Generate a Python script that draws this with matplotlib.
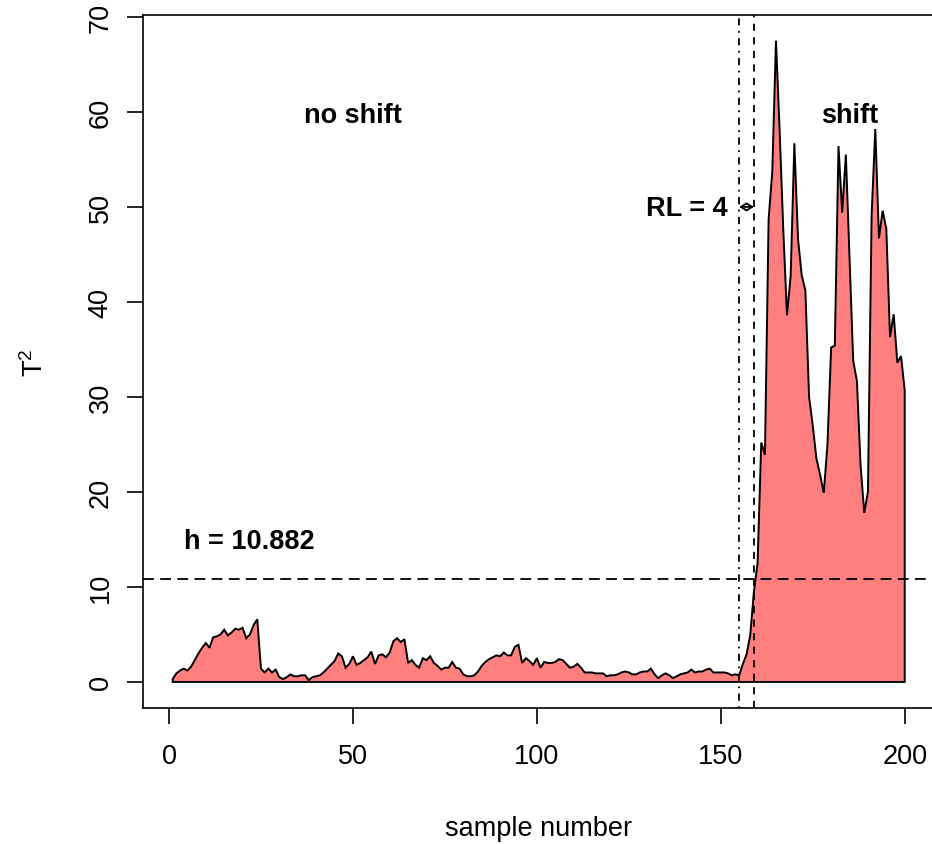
import numpy as np
import matplotlib
matplotlib.use("Agg")
import matplotlib.pyplot as plt

# T^2 statistic per sample
t2 = [
    0.3, 0.9, 1.2, 1.4, 1.2, 1.6, 2.3, 3.0, 3.6, 4.1,
    3.6, 4.7, 4.8, 5.0, 5.5, 4.9, 5.2, 5.6, 5.5, 5.7,
    4.6, 5.0, 6.0, 6.6, 1.4, 1.0, 1.4, 1.0, 1.3, 0.5,
    0.3, 0.5, 0.8, 0.6, 0.6, 0.7, 0.7, 0.2, 0.5, 0.6,
    0.7, 1.0, 1.4, 1.8, 2.2, 3.0, 2.7, 1.5, 1.9, 2.7,
    1.8, 2.0, 2.3, 2.6, 3.2, 1.9, 2.8, 2.9, 2.6, 3.1,
    4.3, 4.6, 4.2, 4.5, 2.0, 2.3, 1.8, 1.5, 2.5, 2.3,
    2.7, 2.0, 1.7, 1.3, 1.5, 1.5, 2.1, 1.5, 1.4, 0.8,
    0.6, 0.6, 0.7, 1.1, 1.7, 2.1, 2.4, 2.6, 2.8, 2.7,
    3.1, 2.8, 2.8, 3.7, 3.9, 2.0, 2.5, 2.2, 1.8, 2.5,
    1.5, 2.1, 2.0, 2.0, 2.1, 2.4, 2.3, 1.9, 1.5, 1.6,
    1.9, 1.5, 1.0, 1.0, 1.0, 0.9, 0.9, 0.9, 0.6, 0.7,
    0.7, 0.8, 1.0, 1.1, 1.0, 0.8, 0.8, 1.0, 1.1, 1.1,
    1.4, 0.8, 0.4, 0.7, 0.9, 0.7, 0.4, 0.6, 0.8, 0.9,
    1.0, 1.3, 1.0, 1.1, 1.1, 1.3, 1.4, 1.0, 1.0, 1.0,
    1.0, 0.9, 0.7, 0.8, 0.7, 1.9, 2.9, 4.9, 9.5, 12.5,
    25.2, 23.9, 48.7, 53.7, 67.5, 58.0, 47.5, 38.6, 42.8, 56.7,
    46.6, 42.8, 41.2, 30.0, 27.0, 23.5, 21.8, 19.9, 25.0, 35.2,
    35.4, 56.4, 49.4, 55.5, 44.6, 33.8, 31.7, 22.8, 17.8, 20.0,
    49.1, 58.2, 46.7, 49.6, 47.7, 36.3, 38.7, 33.6, 34.3, 30.7,
]
samples = list(range(1, len(t2) + 1))

h = 10.882
shift_start = 155
signal_at = 159
x_ticks = [0, 50, 100, 150, 200]
y_ticks = [0, 10, 20, 30, 40, 50, 60, 70]

plt.rcParams['font.family'] = ['Liberation Sans', 'DejaVu Sans']
plt.rcParams['mathtext.default'] = 'regular'
fs = 19.5

fig = plt.figure(figsize=(9.32, 8.45), dpi=100)
ax = fig.add_axes([143.4 / 932, 136.4 / 845, 790.6 / 932, 692.6 / 845])

xs = np.r_[samples[0], samples, samples[-1]]
ys = np.r_[0, t2, 0]
ax.fill(xs, ys, facecolor='#FF7F7F', edgecolor='black', linewidth=1.4, zorder=2)

ax.axhline(h, color='black', lw=1.3, linestyle=(0, (6, 3.5)), zorder=3)
ax.axvline(shift_start, color='black', lw=1.3, linestyle=(0, (1, 3, 4, 3)), zorder=3)
ax.axvline(signal_at, color='black', lw=1.3, linestyle=(0, (4, 3.5)), zorder=3)

ax.annotate('', xy=(shift_start, 50), xytext=(signal_at, 50),
            arrowprops=dict(arrowstyle='<->,head_length=0.4,head_width=0.25',
                            lw=1.3, color='black', shrinkA=0, shrinkB=0))

ax.text(50, 59.7, 'no shift', fontsize=fs, fontweight='bold', ha='center', va='center')
ax.text(185, 59.7, 'shift', fontsize=fs, fontweight='bold', ha='center', va='center')
ax.text(21.7, 14.8, 'h = 10.882', fontsize=fs, fontweight='bold', ha='center', va='center')
ax.text(151.8, 49.9, 'RL = 4', fontsize=fs, fontweight='bold', ha='right', va='center')

ax.set_xlim(-6.96, 207.96)
ax.set_ylim(-2.7, 70.2)
ax.set_xticks(x_ticks)
ax.set_yticks(y_ticks)
ax.tick_params(length=11.5, width=1.2, labelsize=fs, direction='out')
ax.tick_params(axis='x', pad=14)
ax.tick_params(axis='y', pad=10, labelrotation=90)
for lab in ax.get_yticklabels():
    lab.set_va('center')
for sp in ax.spines.values():
    sp.set_linewidth(1.2)

ax.set_xlabel('sample number', fontsize=fs, labelpad=33)
ax.set_ylabel('T$^2$', fontsize=fs, labelpad=28)

fig.savefig('out.png', dpi=100)
